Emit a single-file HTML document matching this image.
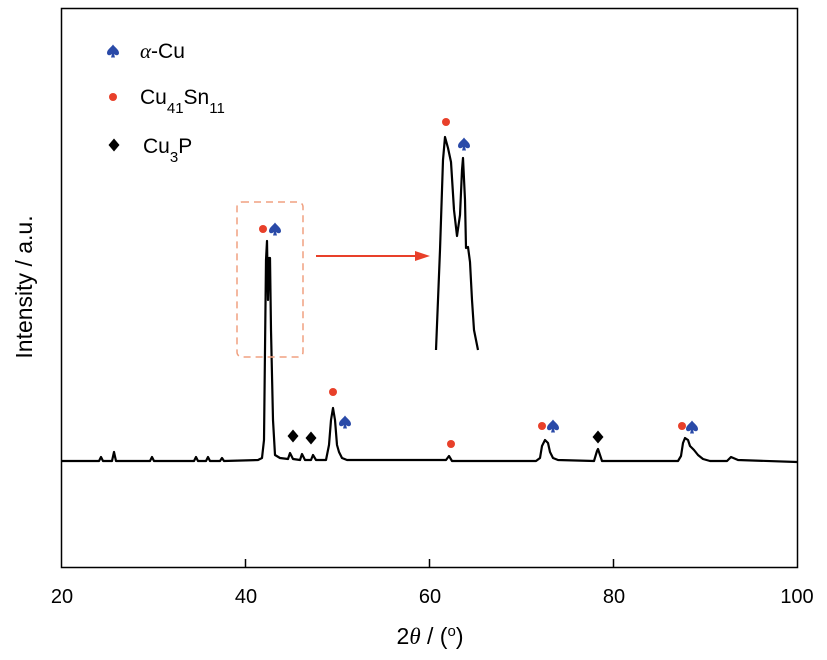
<!DOCTYPE html>
<html><head><meta charset="utf-8"><style>
body{margin:0;background:#fff;}
svg{display:block;font-family:"Liberation Sans",sans-serif;}
</style></head><body>
<svg width="827" height="660" viewBox="0 0 827 660" xmlns="http://www.w3.org/2000/svg">
<defs>
<path id="sp" d="M0,-6.5 C-2,-3.5 -6,-1.5 -6,2 C-6,4.5 -3,5 -1,3 L-2,6.5 L2,6.5 L1,3 C3,5 6,4.5 6,2 C6,-1.5 2,-3.5 0,-6.5Z" fill="#2a4aa8"/>
<polygon id="dm" points="0,-6.5 5.5,0 0,6.5 -5.5,0" fill="#000"/>
</defs>
<rect x="61.5" y="8.5" width="736" height="559" fill="none" stroke="#000" stroke-width="1.5"/>
<g stroke="#000" stroke-width="1.5">
<line x1="245.5" y1="567" x2="245.5" y2="559"/>
<line x1="429.5" y1="567" x2="429.5" y2="559"/>
<line x1="613.5" y1="567" x2="613.5" y2="559"/>
</g>
<g font-size="20" text-anchor="middle" fill="#000">
<text x="62" y="603">20</text><text x="246" y="603">40</text><text x="430" y="603">60</text><text x="614" y="603">80</text><text x="797" y="603">100</text>
</g>
<text x="430" y="644" font-size="23" text-anchor="middle">2<tspan font-family="Liberation Serif" font-style="italic">θ</tspan> / (<tspan baseline-shift="super" font-size="15">o</tspan>)</text>
<text transform="translate(32,287) rotate(-90)" font-size="23" text-anchor="middle">Intensity / a.u.</text>
<!-- legend -->
<use href="#sp" x="113" y="51"/>
<text x="140" y="58" font-size="21"><tspan font-family="Liberation Serif" font-style="italic">α</tspan>-Cu</text>
<circle cx="113" cy="97" r="4" fill="#e8402a"/>
<text x="140" y="104" font-size="21">Cu<tspan baseline-shift="sub" font-size="15">41</tspan>Sn<tspan baseline-shift="sub" font-size="15">11</tspan></text>
<use href="#dm" x="114" y="145"/>
<text x="143" y="153" font-size="21">Cu<tspan baseline-shift="sub" font-size="15">3</tspan>P</text>
<!-- main trace -->
<path fill="none" stroke="#000" stroke-width="2.2" stroke-linejoin="round" d="M62,461 L99,461 L101,457 L103,461 L112,461 L114,452 L116,461 L150,461 L152,457 L154,461 L194,461 L196,457 L198,461 L206,461 L208,457 L210,461 L220,461 L222,458 L224,461 L258,460 L262,458 L264,440 L266,260 L267,241 L268,300 L269,258 L270,258 L271,330 L273,420 L275,455 L280,458 L288,459 L290,453 L293,459 L300,460 L302,454 L305,460 L311,460 L313,455 L316,460 L326,460 L329,445 L331,420 L333,408 L335,420 L337,445 L339,452 L342,458 L347,460 L446,460 L449,456 L452,461 L536,461 L540,458 L542,446 L545,440 L548,443 L550,452 L553,458 L558,460 L594,461 L597,451 L598,449 L600,455 L602,461 L678,461 L681,456 L683,443 L685,438 L688,440 L690,446 L694,450 L698,455 L703,459 L710,461 L727,461 L731,457 L738,460 L797,462"/>
<!-- peak markers -->
<circle cx="263" cy="229" r="4" fill="#e8402a"/>
<use href="#sp" x="275" y="229"/>
<circle cx="333" cy="392" r="4" fill="#e8402a"/>
<use href="#sp" x="345" y="422"/>
<use href="#dm" x="293" y="436"/>
<use href="#dm" x="311" y="438"/>
<circle cx="451" cy="444" r="4" fill="#e8402a"/>
<circle cx="542" cy="426" r="4" fill="#e8402a"/>
<use href="#sp" x="553" y="426"/>
<use href="#dm" x="598" y="437"/>
<circle cx="682" cy="426" r="4" fill="#e8402a"/>
<use href="#sp" x="692" y="427"/>
<!-- inset box -->
<rect x="237" y="202" width="66" height="155" rx="5" fill="none" stroke="#f0a080" stroke-width="1.5" stroke-dasharray="7,5"/>
<line x1="316" y1="256" x2="418" y2="256" stroke="#e8402a" stroke-width="2"/>
<polygon points="430,256 415,251 415,261" fill="#e8402a"/>
<!-- inset trace -->
<path fill="none" stroke="#000" stroke-width="2.2" stroke-linejoin="round" d="M436,350 L440,250 L443,160 L445,137 L448,148 L451,162 L454,210 L457,236 L460,215 L462,170 L463,158 L465,200 L466,248 L468,247 L470,262 L472,300 L474,330 L478,350"/>
<circle cx="446" cy="122" r="4" fill="#e8402a"/>
<use href="#sp" x="464" y="144"/>
</svg>
</body></html>
